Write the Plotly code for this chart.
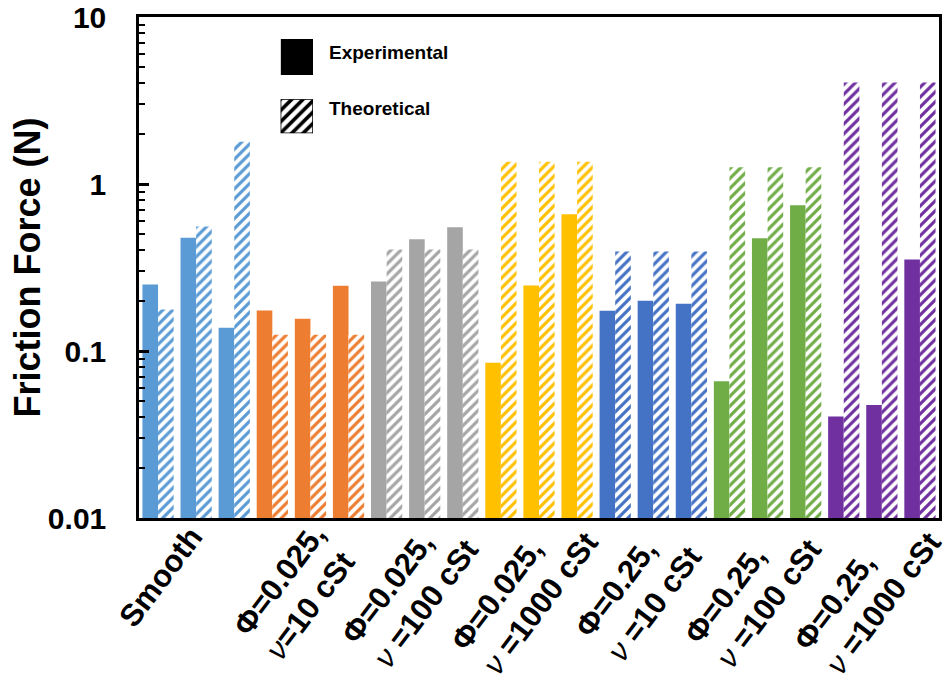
import plotly.graph_objects as go

# Test conditions (three runs each) and their colours
groups = [
    "<b>Smooth</b>",
    "<b>Φ=0.025,</b><br><i>ν</i><b>=10 cSt</b>",
    "<b>Φ=0.025,</b><br><i>ν</i><b> =100 cSt</b>",
    "<b>Φ=0.025,</b><br><i>ν</i><b> =1000 cSt</b>",
    "<b>Φ=0.25,</b><br><i>ν</i><b> =10 cSt</b>",
    "<b>Φ=0.25,</b><br><i>ν</i><b> =100 cSt</b>",
    "<b>Φ=0.25,</b><br><i>ν</i><b> =1000 cSt</b>",
]
group_colors = ["#5B9BD5", "#ED7D31", "#A5A5A5", "#FFC000", "#4472C4", "#70AD47", "#7030A0"]
runs_per_group = 3

# Friction force (N)
experimental = [0.25, 0.477, 0.138,
                0.175, 0.156, 0.246,
                0.261, 0.467, 0.551,
                0.085, 0.247, 0.659,
                0.174, 0.200, 0.192,
                0.066, 0.473, 0.746,
                0.0405, 0.0475, 0.353]
theoretical = [0.177, 0.556, 1.79,
               0.125, 0.125, 0.125,
               0.405, 0.405, 0.405,
               1.36, 1.36, 1.36,
               0.394, 0.394, 0.394,
               1.26, 1.26, 1.26,
               4.06, 4.06, 4.06]

y_ticks = [0.01, 0.1, 1, 10]
y_ticktext = ["0.01", "0.1", "1", "10"]

n = len(experimental)
x = list(range(n))
bar_colors = [c for c in group_colors for _ in range(runs_per_group)]
group_centers = [g * runs_per_group + (runs_per_group - 1) / 2 for g in range(len(groups))]

FONT = "Liberation Sans, Arial, sans-serif"

fig = go.Figure()
fig.add_trace(go.Bar(
    x=x, y=experimental, name="Experimental",
    marker=dict(color=bar_colors, line=dict(width=0)),
    showlegend=False,
))
fig.add_trace(go.Bar(
    x=x, y=theoretical, name="Theoretical",
    marker=dict(color="white", line=dict(width=0),
                pattern=dict(shape="/", fgcolor=bar_colors, bgcolor="white",
                             size=7, solidity=0.45, fillmode="replace")),
    showlegend=False,
))

# Legend swatches drawn in two small inset axes
fig.add_trace(go.Bar(x=[0], y=[1], width=[1], xaxis="x2", yaxis="y2",
                     marker=dict(color="black", line=dict(width=0)),
                     showlegend=False, hoverinfo="skip"))
fig.add_trace(go.Bar(x=[0], y=[1], width=[1], xaxis="x3", yaxis="y3",
                     marker=dict(color="white", line=dict(color="black", width=1.5),
                                 pattern=dict(shape="/", fgcolor="black", bgcolor="white",
                                              size=8, solidity=0.45, fillmode="replace")),
                     showlegend=False, hoverinfo="skip"))

inset = dict(range=[-0.5, 0.5], visible=False, fixedrange=True)
inset_y = dict(range=[0, 1], visible=False, fixedrange=True)

annotations = [
    dict(text="<b>Experimental</b>", x=0.235, y=0.930, xref="paper", yref="paper",
         xanchor="left", yanchor="middle", showarrow=False,
         font=dict(family=FONT, size=19, color="black")),
    dict(text="<b>Theoretical</b>", x=0.235, y=0.818, xref="paper", yref="paper",
         xanchor="left", yanchor="middle", showarrow=False,
         font=dict(family=FONT, size=19, color="black")),
    dict(text="<b>Friction Force (N)</b>", x=-0.14, y=0.5, xref="paper", yref="paper",
         xanchor="center", yanchor="middle", textangle=-90, showarrow=False,
         font=dict(family=FONT, size=36, color="black")),
]

# Slanted category labels, left-aligned lines, one under each group
for label, xc in zip(groups, group_centers):
    two_lines = "<br>" in label
    annotations.append(dict(
        text=label, x=xc, y=-0.166, xref="x", yref="paper",
        xanchor="center", yanchor="middle", align="left",
        xshift=-15 if two_lines else -36, yshift=10 if two_lines else 24,
        textangle=-53, showarrow=False,
        font=dict(family=FONT, size=31, color="black"),
    ))

fig.update_layout(
    width=948, height=683,
    margin=dict(l=139, r=9, t=17, b=165),
    paper_bgcolor="white", plot_bgcolor="white",
    barmode="group", bargap=0.18, bargroupgap=0,
    font=dict(family=FONT, color="black"),
    xaxis=dict(
        range=[-0.5, n - 0.5], showticklabels=False, ticks="", automargin=False,
        showline=True, linecolor="black", linewidth=2.5, mirror=True,
        showgrid=False, zeroline=False,
    ),
    yaxis=dict(
        type="log", range=[-2, 1], automargin=False,
        tickmode="array", tickvals=y_ticks, ticktext=[f"<b>{t}</b>" for t in y_ticktext],
        ticks="inside", ticklen=10, tickwidth=2.5, tickcolor="black",
        ticklabelstandoff=24,
        minor=dict(ticks="inside", ticklen=6, tickwidth=2, tickcolor="black",
                   dtick="D1", showgrid=False),
        tickfont=dict(family=FONT, size=30, color="black"),
        showline=True, linecolor="black", linewidth=2.5, mirror=True,
        showgrid=False, zeroline=False,
    ),
    xaxis2=dict(domain=[0.177, 0.2175], anchor="y2", **inset),
    yaxis2=dict(domain=[0.884, 0.956], anchor="x2", **inset_y),
    xaxis3=dict(domain=[0.177, 0.2175], anchor="y3", **inset),
    yaxis3=dict(domain=[0.768, 0.836], anchor="x3", **inset_y),
    annotations=annotations,
)

fig.write_html("out.html")
